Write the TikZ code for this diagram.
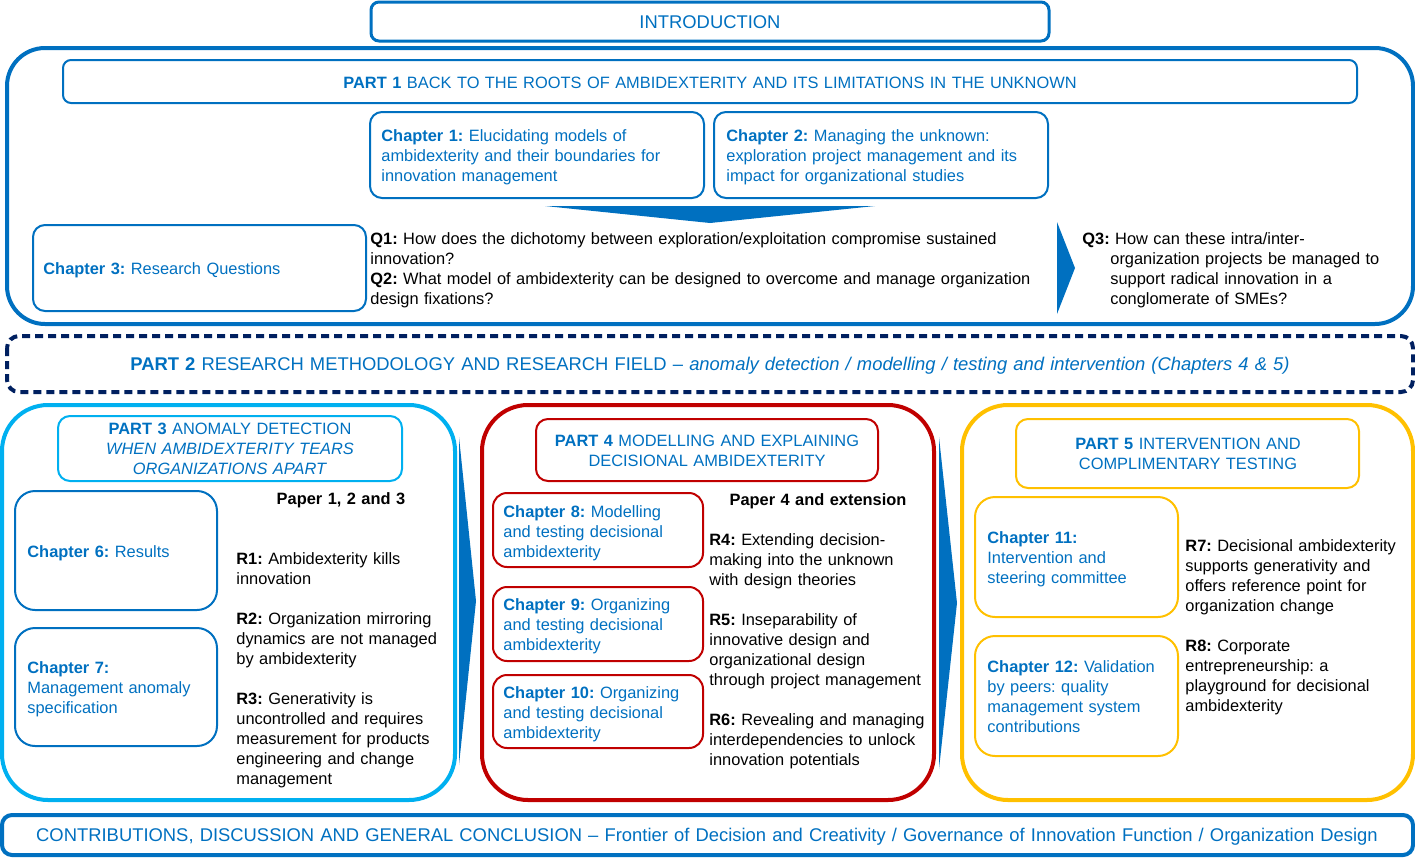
\documentclass[tikz,border=0pt]{standalone}
\usepackage{fontspec}
\setmainfont{Liberation Sans}
\usetikzlibrary{positioning}
\frenchspacing
\definecolor{ublue}{RGB}{0,112,192}
\definecolor{lblue}{RGB}{0,176,240}
\definecolor{navy}{RGB}{0,32,96}
\definecolor{dred}{RGB}{192,0,0}
\definecolor{gold}{RGB}{255,192,0}
\tikzset{
  partframe/.style={line width=2pt, rounded corners=23pt},
  headframe/.style={line width=1pt, rounded corners=6pt},
  chapframe/.style={line width=1pt, rounded corners=#1},
  chevron/.style={fill=ublue, draw=none}
}

\begin{document}
\begin{tikzpicture}[x=0.5pt, y=-0.5pt,
  every node/.style={inner sep=0pt, font=\fontsize{8.2}{10}\selectfont\frenchspacing},
  txt/.style={anchor=base west, align=left, text width=#1},
  ctxt/.style={anchor=base, align=center, text width=#1},
  big/.style={font=\fontsize{9.2}{11}\selectfont}]
  \useasboundingbox (0,0) rectangle (1415,858);

  % introduction
  \draw[ublue, line width=1.5pt, rounded corners=4pt] (371,2) rectangle (1049,41);
  \node[ctxt=300pt, ublue, big] (intro) at (710,28) {INTRODUCTION};

  % part 1
  \draw[ublue, partframe, rounded corners=19pt] (7,48) rectangle (1413,324);
  \draw[ublue, headframe, rounded corners=4pt] (63,60) rectangle (1357,103);
  \node[ctxt=600pt, ublue] (p1head) at (710,88) {\textbf{PART 1} BACK TO THE ROOTS OF AMBIDEXTERITY AND ITS LIMITATIONS IN THE UNKNOWN};
  \draw[ublue, chapframe=6pt] (370,112) rectangle (704,198);
  \draw[ublue, chapframe=6pt] (714,112) rectangle (1048,198);
  \draw[ublue, chapframe=6pt] (33,225) rectangle (366,311);
  \node[txt=160pt, ublue] (ch1) at (381,141) {\textbf{Chapter 1:} Elucidating models of\\ ambidexterity and their boundaries for\\ innovation management};
  \node[txt=160pt, ublue] (ch2) at (726,141) {\textbf{Chapter 2:} Managing the unknown:\\ exploration project management and its\\ impact for organizational studies};
  \node[txt=160pt, ublue] (ch3) at (43,274) {\textbf{Chapter 3:} Research Questions};
  \fill[chevron] (545,206) -- (875,206) -- (710,223) -- cycle;
  \node[txt=340pt] (q12) at (370,244) {\textbf{Q1:} How does the dichotomy between exploration/exploitation compromise sustained\\ innovation?\\ \textbf{Q2:} What model of ambidexterity can be designed to overcome and manage organization\\ design fixations?};
  \fill[chevron] (1057,222) -- (1075,268) -- (1057,314) -- cycle;
  \node[txt=165pt] (q3) at (1082,244) {\textbf{Q3:} How can these intra/inter-\\ \hspace*{14pt}organization projects be managed to\\ \hspace*{14pt}support radical innovation in a\\ \hspace*{14pt}conglomerate of SMEs?};

  % part 2
  \draw[navy, line width=2pt, dash pattern=on 4pt off 2.5pt, rounded corners=6pt] (7,336) rectangle (1413,392);
  \node[ctxt=700pt, ublue, big] (p2) at (710,370) {\textbf{PART 2} RESEARCH METHODOLOGY AND RESEARCH FIELD -- \textit{anomaly detection / modelling / testing and intervention (Chapters 4 \& 5)}};

  % part 3
  \draw[lblue, partframe] (2,405) rectangle (455,800);
  \draw[lblue, headframe] (58,416) rectangle (402,481);
  \node[ctxt=170pt, ublue] (p3head) at (230,434) {\textbf{PART 3} ANOMALY DETECTION\\ \textit{WHEN AMBIDEXTERITY TEARS}\\ \textit{ORGANIZATIONS APART}};
  \node[ctxt=120pt] (paper3) at (341,504) {\textbf{Paper 1, 2 and 3}};
  \draw[ublue, chapframe=10pt] (15,491) rectangle (217,610);
  \draw[ublue, chapframe=10pt] (15,628) rectangle (217,746);
  \node[txt=95pt, ublue] (ch6) at (27,557) {\textbf{Chapter 6:} Results};
  \node[txt=95pt, ublue] (ch7) at (27,673) {\textbf{Chapter 7:}\\ Management anomaly\\ specification};
  \node[txt=105pt] (r13) at (236,564) {\textbf{R1:} Ambidexterity kills\\ innovation\\[10pt] \textbf{R2:} Organization mirroring\\ dynamics are not managed\\ by ambidexterity\\[10pt] \textbf{R3:} Generativity is\\ uncontrolled and requires\\ measurement for products\\ engineering and change\\ management};
  \fill[chevron] (459,437) -- (476,601) -- (459,765) -- cycle;

  % part 4
  \draw[dred, partframe] (482,405) rectangle (934,800);
  \draw[dred, headframe] (536,419) rectangle (878,481);
  \node[ctxt=170pt, ublue] (p4head) at (707,446) {\textbf{PART 4} MODELLING AND EXPLAINING\\ DECISIONAL AMBIDEXTERITY};
  \node[ctxt=120pt] (paper4) at (818,505) {\textbf{Paper 4 and extension}};
  \draw[dred, chapframe=7pt] (493,493) rectangle (703,567);
  \draw[dred, chapframe=7pt] (493,587) rectangle (703,661);
  \draw[dred, chapframe=7pt] (493,675) rectangle (703,748);
  \node[txt=100pt, ublue] (ch8) at (503,517) {\textbf{Chapter 8:} Modelling\\ and testing decisional\\ ambidexterity};
  \node[txt=100pt, ublue] (ch9) at (503,610) {\textbf{Chapter 9:} Organizing\\ and testing decisional\\ ambidexterity};
  \node[txt=100pt, ublue] (ch10) at (503,698) {\textbf{Chapter 10:} Organizing\\ and testing decisional\\ ambidexterity};
  \node[txt=110pt] (r46) at (709,545) {\textbf{R4:} Extending decision-\\ making into the unknown\\ with design theories\\[10pt] \textbf{R5:} Inseparability of\\ innovative design and\\ organizational design\\ through project management\\[10pt] \textbf{R6:} Revealing and managing\\ interdependencies to unlock\\ innovation potentials};
  \fill[chevron] (939,437) -- (957,603) -- (939,769) -- cycle;

  % part 5
  \draw[gold, partframe] (962,405) rectangle (1413,800);
  \draw[gold, headframe] (1016,419) rectangle (1359,488);
  \node[ctxt=170pt, ublue] (p5head) at (1188,449) {\textbf{PART 5} INTERVENTION AND\\ COMPLIMENTARY TESTING};
  \draw[gold, chapframe=10pt] (975,497) rectangle (1178,617);
  \draw[gold, chapframe=10pt] (975,636) rectangle (1178,756);
  \node[txt=95pt, ublue] (ch11) at (987,543) {\textbf{Chapter 11:}\\ Intervention and\\ steering committee};
  \node[txt=95pt, ublue] (ch12) at (987,672) {\textbf{Chapter 12:} Validation\\ by peers: quality\\ management system\\ contributions};
  \node[txt=110pt] (r78) at (1185,551) {\textbf{R7:} Decisional ambidexterity\\ supports generativity and\\ offers reference point for\\ organization change\\[10pt] \textbf{R8:} Corporate\\ entrepreneurship: a\\ playground for decisional\\ ambidexterity};

  % conclusion
  \draw[ublue, line width=2pt, rounded corners=5pt] (2,815) rectangle (1413,855);
  \node[ctxt=700pt, ublue, big] (concl) at (707,841) {CONTRIBUTIONS, DISCUSSION AND GENERAL CONCLUSION -- Frontier of Decision and Creativity / Governance of Innovation Function / Organization Design};
\end{tikzpicture}
\end{document}
